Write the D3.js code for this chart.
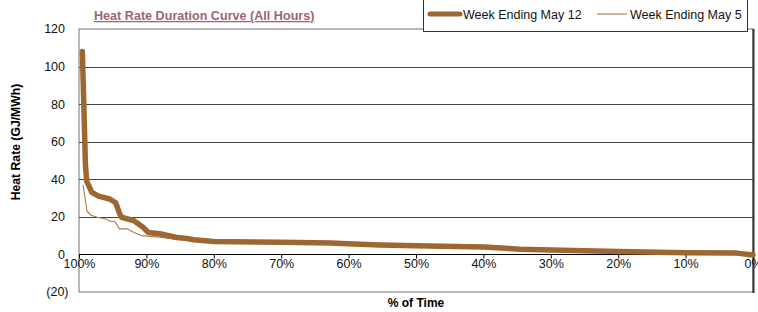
<!DOCTYPE html>
<html>
<head>
<meta charset="utf-8">
<script src="https://cdn.jsdelivr.net/npm/d3@7"></script>
<style>
  body { margin: 0; background: #fff; }
  svg { display: block; font-family: "Liberation Sans", Arial, sans-serif; }
</style>
</head>
<body>
<svg id="chart" width="758" height="312"></svg>
<script>
// % of time (duration) and heat rate values
var pctMay12 = [99.5, 99.25, 99.05, 98.86, 98.1, 97.1, 95.45, 94.56, 94.0, 93.7, 91.9, 90.5, 89.7, 88.0, 85.5, 84.0, 83.0, 80, 70, 62.7, 59.3, 55.3, 50, 40, 34.5, 30, 20, 10, 2.4, 0];
var valMay12 = [108, 75, 48, 39, 33, 31, 29.5, 27.5, 22, 19.8, 18, 14.5, 11.7, 11, 9, 8.5, 7.8, 6.9, 6.5, 6.1, 5.6, 5.0, 4.6, 3.9, 2.8, 2.4, 1.5, 0.9, 0.7, -0.3];

var pctMay5 = [99.4, 98.8, 98.3, 97.3, 96.0, 95.45, 94.7, 94.0, 92.9, 91.9, 90.7, 88.0, 86.0, 84.0, 80, 70, 60, 50, 40, 30, 20, 10, 2.4, 0];
var valMay5 = [37, 23, 21, 19.8, 18.9, 17.7, 17.7, 13.6, 13.6, 11.8, 10, 9.2, 8.3, 7.9, 6.7, 6.3, 5.5, 4.4, 3.7, 2.2, 1.4, 0.8, 0.6, -0.4];

var yTicks = [-20, 0, 20, 40, 60, 80, 100, 120];
var xTicks = [100, 90, 80, 70, 60, 50, 40, 30, 20, 10, 0];

var brown = "#9e6631";
var brownThin = "#b07a45";

var svg = d3.select("#chart");
var pLeft = 79, pRight = 753, pTop = 29, pBottom = 292;

var x = d3.scaleLinear().domain([100, 0]).range([pLeft, pRight]);
var y = d3.scaleLinear().domain([-20, 120]).range([pBottom, pTop]);

// plot frame
svg.append("rect")
  .attr("x", pLeft).attr("y", pTop)
  .attr("width", pRight - pLeft).attr("height", pBottom - pTop)
  .attr("fill", "none").attr("stroke", "#888").attr("stroke-width", 1.2);
svg.append("line")
  .attr("x1", pRight + 0.5).attr("x2", pRight + 0.5)
  .attr("y1", pTop).attr("y2", pBottom + 1)
  .attr("stroke", "#333").attr("stroke-width", 2);

// gridlines
svg.append("g").selectAll("line")
  .data(yTicks.filter(function(d) { return d > -20 && d < 120; }))
  .enter().append("line")
  .attr("x1", pLeft).attr("x2", pRight)
  .attr("y1", function(d) { return Math.round(y(d)) + 0.5; })
  .attr("y2", function(d) { return Math.round(y(d)) + 0.5; })
  .attr("stroke", function(d) { return d == 0 ? "#000" : "#444"; })
  .attr("stroke-width", 1);

// y tick labels
svg.append("g").selectAll("text")
  .data(yTicks)
  .enter().append("text")
  .attr("x", function(d) { return d < 0 ? 68.5 : 65; })
  .attr("y", function(d) { return y(d); })
  .attr("dy", "0.35em")
  .attr("text-anchor", "end")
  .attr("font-size", 12.5)
  .attr("fill", "#111")
  .text(function(d) { return d < 0 ? "(" + (-d) + ")" : d; });

// x axis on the zero line
var xAxis = d3.axisBottom(x)
  .tickValues(xTicks)
  .tickSize(4)
  .tickFormat(function(d) { return d + "%"; });

var gx = svg.append("g")
  .attr("transform", "translate(0," + (Math.round(y(0)) + 0.5) + ")")
  .call(xAxis);
gx.select(".domain").remove();
gx.selectAll(".tick line").attr("stroke", "#000");
gx.selectAll(".tick text")
  .attr("y", 13)
  .attr("dy", "0")
  .attr("font-size", 12.5)
  .attr("font-family", "Liberation Sans, Arial, sans-serif")
  .attr("fill", "#111");

var line = d3.line()
  .x(function(d) { return x(d[0]); })
  .y(function(d) { return y(d[1]); });

svg.append("path")
  .datum(d3.zip(pctMay5, valMay5))
  .attr("d", line)
  .attr("fill", "none")
  .attr("stroke", brownThin)
  .attr("stroke-width", 1.1);

svg.append("path")
  .datum(d3.zip(pctMay12, valMay12))
  .attr("d", line)
  .attr("fill", "none")
  .attr("stroke", brown)
  .attr("stroke-width", 5.5)
  .attr("stroke-linejoin", "round")
  .attr("stroke-linecap", "round");

// title
svg.append("text")
  .attr("x", 94).attr("y", 20)
  .attr("font-size", 12.6)
  .attr("font-weight", "bold")
  .attr("fill", "#a0646e")
  .attr("text-decoration", "underline")
  .text("Heat Rate Duration Curve (All Hours)");

// axis titles
svg.append("text")
  .attr("transform", "translate(20,142) rotate(-90)")
  .attr("text-anchor", "middle")
  .attr("font-size", 12.2)
  .attr("font-weight", "bold")
  .text("Heat Rate (GJ/MWh)");

svg.append("text")
  .attr("x", (pLeft + pRight) / 2).attr("y", 307)
  .attr("text-anchor", "middle")
  .attr("font-size", 12)
  .attr("font-weight", "bold")
  .text("% of Time");

// legend
var lg = svg.append("g");
lg.append("rect")
  .attr("x", 423.5).attr("y", -1.5)
  .attr("width", 324).attr("height", 33)
  .attr("fill", "#fff").attr("stroke", "#333").attr("stroke-width", 1);
lg.append("line")
  .attr("x1", 430).attr("x2", 460).attr("y1", 14).attr("y2", 14)
  .attr("stroke", brown).attr("stroke-width", 5).attr("stroke-linecap", "round");
lg.append("text")
  .attr("x", 463).attr("y", 18.5)
  .attr("font-size", 12.5).attr("fill", "#111")
  .text("Week Ending May 12");
lg.append("line")
  .attr("x1", 597).attr("x2", 627).attr("y1", 14).attr("y2", 14)
  .attr("stroke", brownThin).attr("stroke-width", 1.1);
lg.append("text")
  .attr("x", 630).attr("y", 18.5)
  .attr("font-size", 12.5).attr("fill", "#111")
  .text("Week Ending May 5");
</script>
</body>
</html>
